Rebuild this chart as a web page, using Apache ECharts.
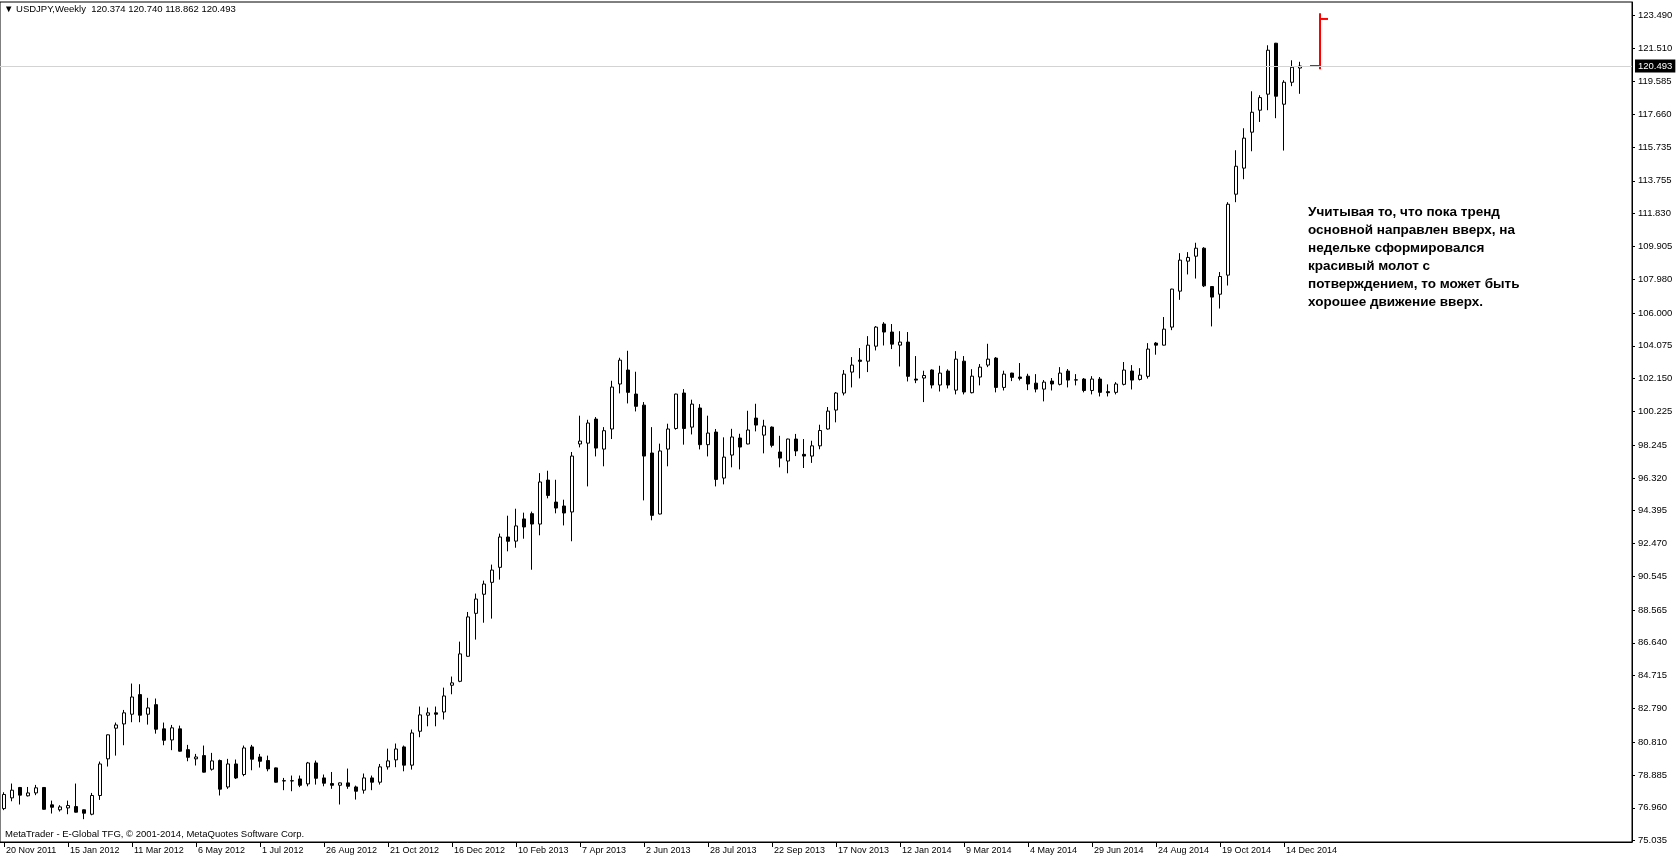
<!DOCTYPE html>
<html>
<head>
<meta charset="utf-8">
<script src="https://cdn.jsdelivr.net/npm/echarts@6/dist/echarts.min.js"></script>
<style>
html,body{margin:0;padding:0;background:#ffffff;}
#chart{width:1676px;height:861px;}
</style>
</head>
<body>
<div id="chart"></div>
<script>
// ---------------- data ----------------
const symbolTitle = 'USDJPY,Weekly';
const firstWeekUTC = [2011, 10, 20]; // 20 Nov 2011 (first visible weekly bar)
const totalSlots = 204;               // visible bar slots incl. empty space on the right

const openPrices = [
76.91,77.54,78.15,77.66,77.83,78.15,77.13,76.84,76.95,77.03,
76.84,76.58,77.68,79.83,81.63,81.88,82.45,83.60,82.45,83.01,
81.59,80.94,81.59,80.37,79.83,80.02,79.22,79.73,78.18,79.53,
78.91,80.53,79.94,79.73,79.30,78.55,78.53,78.65,78.36,79.59,
78.71,78.38,78.28,78.42,78.18,77.99,78.71,78.46,79.36,79.77,
80.53,79.46,81.45,82.39,82.53,82.58,84.15,84.38,85.85,88.37,
89.49,90.19,91.07,92.85,92.61,93.91,94.22,93.61,96.19,94.90,
94.67,94.32,98.31,98.36,99.77,98.01,99.19,101.83,102.65,101.24,
100.59,97.78,94.20,98.01,99.22,101.30,99.30,100.42,98.27,99.01,
96.31,97.66,98.66,98.31,99.83,98.83,99.30,97.84,97.31,98.60,
97.70,97.60,98.20,99.19,100.30,101.30,102.53,103.23,103.17,104.05,
105.35,104.88,104.11,104.29,102.12,102.18,102.65,101.77,102.59,101.47,
103.17,101.32,102.24,102.94,103.35,101.63,102.47,102.24,102.29,101.88,
101.53,102.00,101.81,102.59,102.06,102.12,101.45,102.12,101.38,101.34,
101.81,102.59,102.10,102.28,104.23,104.11,105.17,107.28,109.04,109.33,
109.80,107.55,107.10,108.22,112.97,114.50,116.61,117.90,118.84,121.83,
118.25,119.54,120.374
];
const closePrices = [
77.74,77.99,77.70,77.83,78.13,76.87,76.99,77.01,77.09,76.70,
76.64,77.68,79.53,81.24,81.82,82.53,83.46,82.39,82.82,81.57,
80.92,81.65,80.28,79.92,79.94,79.05,79.71,78.05,79.53,78.71,
80.47,79.81,79.69,79.24,78.46,78.53,78.55,78.28,79.59,78.69,
78.40,78.28,78.42,78.22,77.93,78.71,78.46,79.36,79.71,80.41,
79.46,81.35,82.41,82.53,82.45,83.52,84.29,85.99,88.16,89.21,
90.09,90.91,92.85,92.60,93.50,93.44,93.61,96.08,95.29,94.55,
94.26,97.60,98.48,99.54,98.07,99.09,101.65,103.23,101.34,100.52,
97.60,94.12,97.90,99.19,101.24,99.22,100.65,98.27,98.95,96.23,
97.54,98.72,98.13,99.13,99.42,99.36,98.23,97.48,98.60,97.90,
97.60,98.20,99.10,100.24,101.30,102.41,102.94,103.16,104.11,105.17,
104.88,104.17,104.29,102.28,102.06,102.33,101.77,102.47,101.77,103.29,
101.36,102.29,102.82,103.29,101.63,102.41,102.22,102.16,101.83,101.53,
101.94,101.83,102.47,102.06,102.08,101.45,102.12,101.34,101.32,101.83,
102.65,102.06,102.35,103.88,104.11,105.05,107.40,109.10,109.26,109.80,
107.59,106.93,108.14,112.38,114.61,116.26,117.78,118.64,121.42,118.72,
119.54,120.42,120.493
];
const lowPrices = [
76.82,77.34,77.15,77.62,77.70,76.85,76.62,76.74,76.58,76.68,
76.29,76.52,77.42,79.38,80.02,80.63,81.98,81.98,81.84,81.31,
80.63,80.34,80.26,79.69,79.44,79.03,79.14,77.68,78.07,78.65,
78.81,79.16,79.32,79.10,78.44,77.99,77.93,78.17,78.22,78.32,
78.22,78.07,77.15,78.07,77.44,77.79,77.99,78.32,79.20,79.34,
79.10,79.20,81.10,81.74,81.74,82.14,83.62,84.33,85.83,86.83,
87.82,88.06,90.35,92.01,92.22,92.75,90.93,92.95,95.12,94.24,
93.53,92.60,98.11,95.82,97.58,97.00,98.60,101.28,100.69,100.22,
95.00,93.83,94.18,97.00,99.15,98.27,98.87,97.99,97.58,95.82,
95.94,96.94,96.82,98.29,99.05,97.76,98.11,96.94,96.59,97.60,
96.90,97.20,98.00,99.15,99.58,101.16,101.63,102.16,102.53,103.80,
104.09,103.88,102.86,101.98,101.88,100.77,101.57,101.39,101.57,101.22,
101.22,101.28,101.75,102.82,101.34,101.45,102.00,102.04,101.47,101.34,
100.81,101.45,101.75,101.63,101.75,101.34,101.22,101.10,101.10,101.22,
101.75,101.51,102.04,102.15,103.55,104.09,104.99,106.77,108.26,108.02,
107.52,105.21,106.26,107.61,112.50,113.85,115.49,117.21,117.90,117.43,
115.53,119.31,118.862
];
const highPrices = [
77.87,78.38,78.18,78.18,78.30,78.17,77.38,77.11,77.38,78.38,
76.86,77.83,79.67,81.26,81.96,82.70,84.25,84.21,83.41,83.37,
81.96,81.82,81.78,80.65,80.12,80.61,80.18,79.79,79.83,79.79,
80.61,80.65,80.12,80.02,79.32,78.71,78.85,78.85,79.65,79.73,
78.91,79.06,78.44,79.26,78.26,78.97,78.85,79.53,80.43,80.73,
80.61,81.55,82.90,82.84,82.90,84.01,84.66,86.71,88.45,89.53,
90.29,91.23,93.05,94.10,94.51,94.28,94.34,96.60,96.74,96.21,
95.04,97.84,99.97,99.73,99.89,99.30,102.02,103.37,103.78,102.55,
100.77,99.30,98.33,99.50,101.26,101.53,100.91,100.65,99.97,99.19,
98.70,99.20,98.91,100.26,100.67,99.73,99.34,98.79,98.62,98.90,
98.60,98.50,99.44,100.48,101.36,102.65,103.41,103.94,104.64,105.23,
105.46,105.35,104.93,104.88,103.47,102.61,102.69,102.90,102.69,103.76,
103.47,102.70,103.00,104.19,103.41,102.61,102.49,103.06,102.43,102.41,
102.06,102.18,102.82,102.71,102.41,102.18,102.29,102.24,101.81,101.94,
103.12,102.94,102.76,104.23,104.29,105.76,107.42,109.51,109.57,110.12,
109.86,107.57,108.40,112.50,115.55,116.84,119.01,118.78,121.71,121.85,
119.66,120.83,120.740
];

const priceTicks = [123.490,121.510,119.585,117.660,115.735,113.755,111.830,109.905,107.980,106.000,
  104.075,102.150,100.225,98.245,96.320,94.395,92.470,90.545,88.565,86.640,84.715,82.790,80.810,78.885,76.960,75.035];
const priceMin = 74.95;
const priceMax = 124.25;

// drawn red projection bar: [slot, open(left tick), close(right tick), low, high]
const projectionBar = [[164, 120.493, 123.255, 120.30, 123.59]];

const noteLines = [
  'Учитывая то, что пока тренд',
  'основной направлен вверх, на',
  'недельке сформировался',
  'красивый молот с',
  'потверждением, то может быть',
  'хорошее движение вверх.'
];
const copyrightText = 'MetaTrader - E-Global TFG, © 2001-2014, MetaQuotes Software Corp.';

// ---------------- build ----------------
const monthNames = ['Jan','Feb','Mar','Apr','May','Jun','Jul','Aug','Sep','Oct','Nov','Dec'];
const startMs = Date.UTC(firstWeekUTC[0], firstWeekUTC[1], firstWeekUTC[2]);
const weeks = [];
for (let i = 0; i < totalSlots; i++) {
  const d = new Date(startMs + i * 7 * 86400000);
  weeks.push(d.getUTCDate() + ' ' + monthNames[d.getUTCMonth()] + ' ' + d.getUTCFullYear());
}
const nBars = openPrices.length;
const candleData = openPrices.map((o, i) => [o, closePrices[i], lowPrices[i], highPrices[i]]);
const last = nBars - 1;
const lastPrice = closePrices[last];
const headerText = '\u25BC ' + symbolTitle + '  ' + [openPrices[last], highPrices[last], lowPrices[last], closePrices[last]].map(v => v.toFixed(3)).join(' ');
const showDateTick = (idx) => idx % 8 === 0 && idx < nBars;

const FONT = '"Liberation Sans", Arial, sans-serif';

const chart = echarts.init(document.getElementById('chart'), null, {renderer: 'canvas'});
chart.setOption({
  animation: false,
  backgroundColor: '#ffffff',
  grid: {left: 0, right: 44, top: 2, bottom: 19, show: true, borderColor: '#000000', borderWidth: 1, backgroundColor: 'transparent'},
  xAxis: {
    type: 'category',
    data: weeks,
    boundaryGap: true,
    axisLine: {show: true, lineStyle: {color: '#000000', width: 1}},
    axisTick: {show: true, alignWithLabel: true, interval: showDateTick, length: 5, lineStyle: {color: '#000000'}},
    axisLabel: {interval: showDateTick, align: 'left', margin: 4, padding: [0, 0, 0, 2], fontSize: 9, color: '#000000', fontFamily: FONT},
    splitLine: {show: false}
  },
  yAxis: {
    type: 'value',
    position: 'right',
    min: priceMin,
    max: priceMax,
    axisLine: {show: true, lineStyle: {color: '#000000', width: 1}},
    axisTick: {show: true, length: 3, customValues: priceTicks, lineStyle: {color: '#000000'}},
    axisLabel: {customValues: priceTicks, formatter: v => v.toFixed(3), margin: 6, fontSize: 9.5, color: '#000000', fontFamily: FONT},
    splitLine: {show: false}
  },
  graphic: [
    {type: 'text', left: 4, top: 4, z: 100, style: {text: headerText, font: '9.5px ' + FONT, fill: '#000000'}},
    {type: 'text', left: 5, top: 829, z: 100, style: {text: copyrightText, font: '9.5px ' + FONT, fill: '#000000'}},
    {type: 'text', left: 1308, top: 203, z: 100, style: {text: noteLines.join('\n'), font: 'bold 13.5px ' + FONT, fill: '#000000', lineHeight: 18}}
  ],
  series: [
    {
      type: 'candlestick',
      data: candleData,
      barWidth: 4,
      itemStyle: {color: '#ffffff', color0: '#000000', borderColor: '#000000', borderColor0: '#000000', borderWidth: 1},
      markLine: {
        silent: true,
        symbol: ['none', 'none'],
        animation: false,
        lineStyle: {color: '#d3d3d3', width: 1, type: 'solid'},
        label: {show: true, position: 'end', distance: 3, formatter: () => lastPrice.toFixed(3), color: '#ffffff', backgroundColor: '#000000', padding: [2, 3, 1, 3], fontSize: 9.5, fontFamily: FONT},
        data: [{yAxis: lastPrice}]
      }
    },
    {
      type: 'custom',
      data: projectionBar,
      encode: {x: 0, y: [1, 2, 3, 4]},
      renderItem: function (params, api) {
        const idx = api.value(0);
        const half = api.size([1, 0])[0] / 2;
        const pHigh = api.coord([idx, api.value(4)]);
        const pLow = api.coord([idx, api.value(3)]);
        const pOpen = api.coord([idx, api.value(1)]);
        const pClose = api.coord([idx, api.value(2)]);
        const x = Math.round(pHigh[0] + half);
        const st = {stroke: '#ff0000', lineWidth: 2};
        return {type: 'group', children: [
          {type: 'line', shape: {x1: x, y1: pHigh[1], x2: x, y2: pLow[1]}, style: st},
          {type: 'line', shape: {x1: x - 10, y1: pOpen[1], x2: x, y2: pOpen[1]}, style: st},
          {type: 'line', shape: {x1: x, y1: pClose[1], x2: x + 8, y2: pClose[1]}, style: st}
        ]};
      }
    }
  ]
});
</script>
</body>
</html>
